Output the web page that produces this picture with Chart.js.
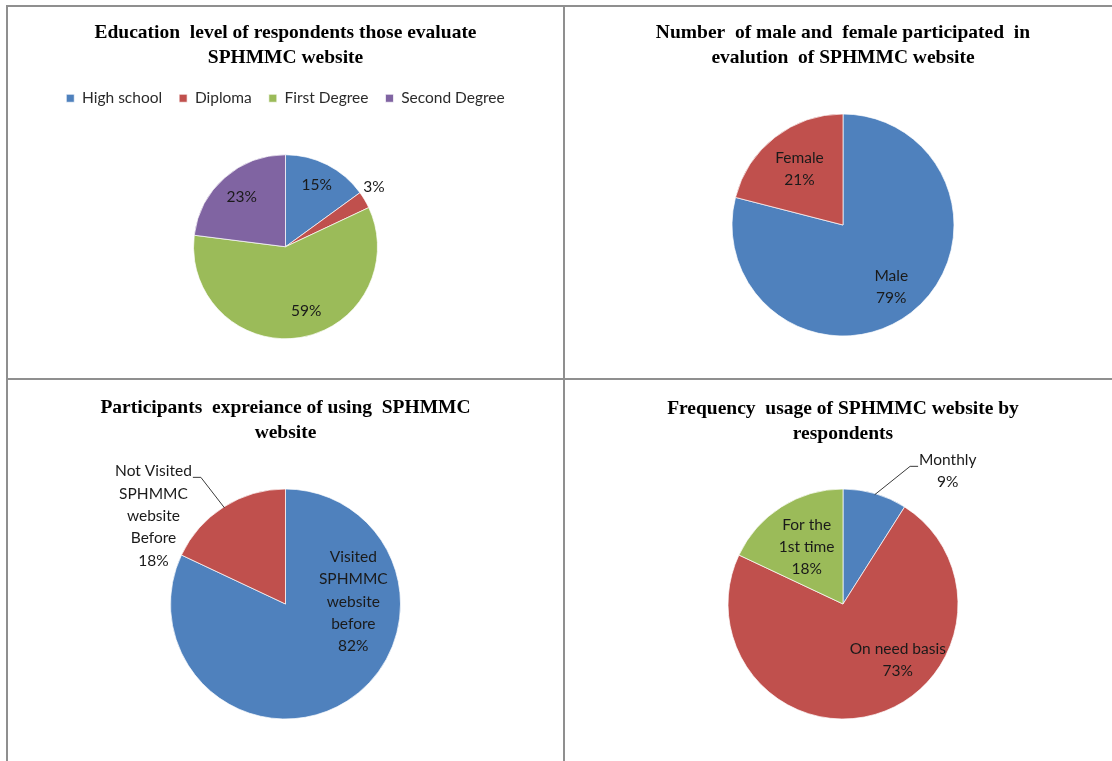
<!DOCTYPE html>
<html>
<head>
<meta charset="utf-8">
<script src="https://cdn.jsdelivr.net/npm/chart.js@4.4.1/dist/chart.umd.min.js"></script>
<style>
  html, body { margin: 0; padding: 0; background: #fff; overflow: hidden; }
  body { width: 1112px; height: 761px; position: relative; }
  .rule { position: absolute; background: #8f8f8f; }
  .box { position: absolute; }
</style>
</head>
<body>
<div class="rule" style="left:6px;top:5px;width:1106px;height:2px"></div>
<div class="rule" style="left:6px;top:5px;width:2px;height:756px"></div>
<div class="rule" style="left:563px;top:5px;width:2px;height:756px"></div>
<div class="rule" style="left:6px;top:378px;width:1106px;height:2px"></div>

<div class="box" style="left:8px;top:7px;width:555px;height:385px"><canvas id="c1"></canvas></div>
<div class="box" style="left:565px;top:7px;width:556px;height:371px"><canvas id="c2"></canvas></div>
<div class="box" style="left:8px;top:380px;width:555px;height:381px"><canvas id="c3"></canvas></div>
<div class="box" style="left:565px;top:381px;width:556px;height:380px"><canvas id="c4"></canvas></div>

<script>
// four Excel-style pies, values in percent

const eduCategories = ['High school', 'Diploma', 'First Degree', 'Second Degree'];
const eduValues = [15, 3, 59, 23];

const genderCategories = [['Male'], ['Female']];
const genderValues = [79, 21];

const visitCategories = [['Visited', 'SPHMMC', 'website', 'before'], ['Not Visited', 'SPHMMC', 'website', 'Before']];
const visitValues = [82, 18];

const freqCategories = [['Monthly'], ['On need basis'], ['For the', '1st time']];
const freqValues = [9, 73, 18];

const BLUE = '#4F81BD', RED = '#C0504D', GREEN = '#9BBB59', PURPLE = '#8064A2';
const LABEL_FONT = 'Lato, "Open Sans", sans-serif';

// draws the percent (and name) labels, plus leader lines for outside ones
const sliceLabels = {
  id: 'sliceLabels',
  afterDatasetsDraw(chart, args, opts) {
    const ctx = chart.ctx;
    const meta = chart.getDatasetMeta(0);
    const values = chart.data.datasets[0].data;
    ctx.save();
    ctx.font = opts.size + 'px ' + LABEL_FONT;
    ctx.fillStyle = '#1a1a1a';
    ctx.textAlign = 'center';
    ctx.textBaseline = 'middle';
    meta.data.forEach((arc, i) => {
      const spot = opts.spots[i] || { dist: 0.7 };
      const p = arc.getProps(['x', 'y', 'startAngle', 'endAngle', 'outerRadius'], true);
      const mid = (p.startAngle + p.endAngle) / 2;
      const ang = spot.angle != null ? (spot.angle - 90) * Math.PI / 180 : mid;
      const d = p.outerRadius * spot.dist;
      const cx = p.x + Math.cos(ang) * d;
      const cy = p.y + Math.sin(ang) * d;
      const lines = (opts.names ? [].concat(chart.data.labels[i]) : []).concat(values[i] + '%');
      const top = cy - (lines.length - 1) * opts.lineHeight / 2;
      lines.forEach((t, k) => ctx.fillText(t, cx, top + k * opts.lineHeight));

      if (spot.leader) {
        const w = ctx.measureText(lines[0]).width;
        const ly = top + 6;
        const dir = spot.leader === 'right' ? 1 : -1;
        const sx = cx + dir * (w / 2 + 1);
        const ex = p.x + Math.cos(mid) * p.outerRadius * 0.99;
        const ey = p.y + Math.sin(mid) * p.outerRadius * 0.99;
        ctx.beginPath();
        ctx.moveTo(sx, ly);
        ctx.lineTo(sx + dir * 8, ly);
        ctx.lineTo(ex, ey);
        ctx.strokeStyle = '#3a3a3a';
        ctx.lineWidth = 1;
        ctx.stroke();
      }
    });
    ctx.restore();
  }
};

function titleOpts(lines, padTop, padBottom) {
  return {
    display: true,
    text: lines,
    color: '#000',
    font: { family: '"Liberation Serif", "Times New Roman", serif', size: 19.5, weight: 'bold', lineHeight: 25 / 19.5 },
    padding: { top: padTop, bottom: padBottom }
  };
}

function makePie(id, labels, values, colors, radius, title, legend, labelOpts, padBottom) {
  return new Chart(document.getElementById(id), {
    type: 'pie',
    data: {
      labels: labels,
      datasets: [{
        data: values,
        backgroundColor: colors,
        borderColor: 'rgba(255,255,255,0.7)',
        borderWidth: 1,
        radius: radius
      }]
    },
    options: {
      responsive: true,
      maintainAspectRatio: false,
      animation: false,
      layout: { padding: { bottom: padBottom } },
      plugins: {
        title: title,
        legend: legend,
        tooltip: { enabled: false },
        sliceLabels: labelOpts
      }
    },
    plugins: [sliceLabels]
  });
}

makePie('c1', eduCategories, eduValues, [BLUE, RED, GREEN, PURPLE], 92,
  titleOpts(['Education  level of respondents those evaluate', 'SPHMMC website'], 13.5, 3),
  {
    display: true,
    position: 'top',
    labels: { boxWidth: 8, boxHeight: 8, padding: 17, color: '#2b2b2b', font: { family: LABEL_FONT, size: 15.5 } }
  },
  { size: 15.5, lineHeight: 22, names: false, spots: [{ dist: 0.75 }, { dist: 1.16, angle: 56 }, { dist: 0.73, angle: 162 }, { dist: 0.72 }] },
  14.5);

makePie('c2', genderCategories, genderValues, [BLUE, RED], 111,
  titleOpts(['Number  of male and  female participated  in', 'evalution  of SPHMMC website'], 13.5, 10),
  { display: false },
  { size: 15.5, lineHeight: 22, names: true, spots: [{ dist: 0.71 }, { dist: 0.64 }] },
  8.5);

makePie('c3', visitCategories, visitValues, [BLUE, RED], 115,
  titleOpts(['Participants  expreiance of using  SPHMMC', 'website'], 15.5, 10),
  { display: false },
  { size: 15.5, lineHeight: 22.3, names: true, spots: [{ dist: 0.59, angle: 88 }, { dist: 1.38, angle: 303.7, leader: 'right' }] },
  8.5);

makePie('c4', freqCategories, freqValues, [BLUE, RED, GREEN], 115,
  titleOpts(['Frequency  usage of SPHMMC website by', 'respondents'], 15.5, 10),
  { display: false },
  { size: 15.5, lineHeight: 22, names: true, spots: [{ dist: 1.47, angle: 38.3, leader: 'left' }, { dist: 0.68, angle: 135.5 }, { dist: 0.59 }] },
  9.5);
</script>
</body>
</html>
